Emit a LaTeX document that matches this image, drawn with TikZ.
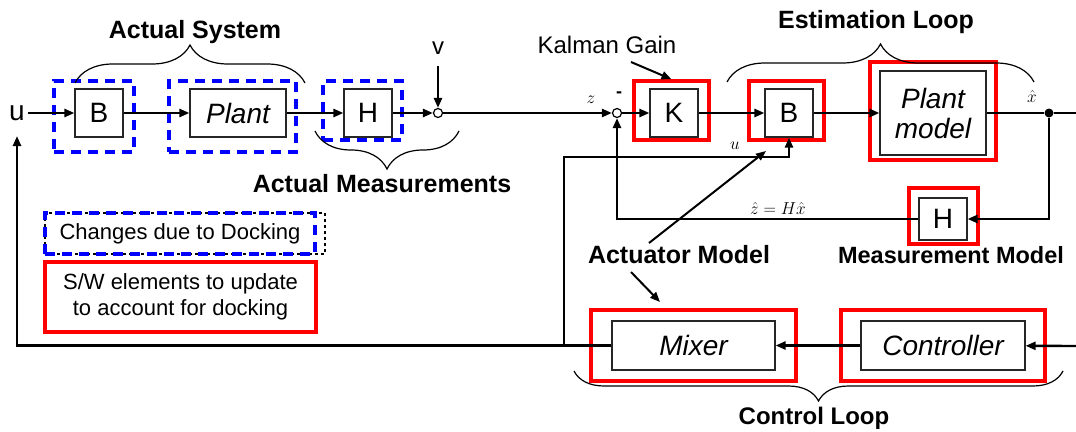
\documentclass[tikz,border=0pt]{standalone}
\usepackage{fontspec}
\setmainfont{Liberation Sans}
\usetikzlibrary{arrows.meta,decorations.pathreplacing}
\definecolor{dockblue}{HTML}{0000FF}
\definecolor{swred}{HTML}{FF0000}
\tikzset{
  blk/.style={draw=black!85, line width=1.2pt, fill=white, minimum width=48pt, minimum height=48pt, inner sep=0pt, font=\fontsize{28}{30}\selectfont},
  itl/.style={font=\itshape\fontsize{28}{30}\selectfont},
  swbox/.style={draw=swred, line width=3.5pt, inner sep=0pt},
  dockbox/.style={draw=dockblue, line width=3.5pt, dash pattern=on 10pt off 7pt, inner sep=0pt},
  arr/.style={-{Triangle[length=10pt,width=8pt]}, line width=2.4pt},
  ln/.style={line width=2.4pt},
  brc/.style={decorate, decoration={brace, amplitude=38pt}, line width=1.2pt},
  lbl/.style={font=\bfseries\fontsize{25}{28}\selectfont},
  txt/.style={font=\fontsize{24}{26}\selectfont},
  mth/.style={font=\fontsize{17}{17}\selectfont, inner sep=1pt},
}
\begin{document}
\begin{tikzpicture}[x=1pt, y=-1pt]
\useasboundingbox (0,0) rectangle (1076,431);
% actual system
\node[dockbox, minimum width=80pt, minimum height=71pt] (dB) at (94,116.5) {};
\node[dockbox, minimum width=127pt, minimum height=71pt] (dP) at (232.5,116.5) {};
\node[dockbox, minimum width=79pt, minimum height=59pt] (dH) at (362.5,110.5) {};
\node[blk] (B) at (99,113) {B};
\node[blk, itl, minimum width=96pt] (P) at (238,113) {Plant};
\node[blk] (H) at (368,113) {H};
\node[draw, circle, line width=1.2pt, fill=white, inner sep=0pt, minimum size=9pt] (s1) at (438,113) {};
\node[font=\fontsize{28}{30}\selectfont] (u) at (17,113) {u};
\node[txt] (v) at (438,48) {v};
% estimator and controller
\node[swbox, minimum width=75pt, minimum height=59pt] (rK) at (671.5,110.5) {};
\node[swbox, minimum width=75pt, minimum height=59pt] (rB) at (786.5,110.5) {};
\node[swbox, minimum width=126pt, minimum height=98pt] (rP) at (933,111) {};
\node[swbox, minimum width=69pt, minimum height=56pt] (rH) at (943.5,216) {};
\node[swbox, minimum width=205pt, minimum height=71pt] (rM) at (693.5,345.5) {};
\node[swbox, minimum width=204pt, minimum height=71pt] (rC) at (943,345.5) {};
\node[blk] (K) at (674,113) {K};
\node[blk] (Bm) at (789,113) {B};
\node[blk, itl, minimum width=106pt, minimum height=84pt, align=center] (Pm) at (933,113) {Plant\\model};
\node[blk, minimum height=42pt] (Hm) at (943,219) {H};
\node[blk, itl, minimum width=163pt, minimum height=49pt] (Mx) at (693.5,345.5) {Mixer};
\node[blk, itl, minimum width=164pt, minimum height=49pt] (Ct) at (943,345.5) {Controller};
\node[draw, circle, line width=1.2pt, fill=white, inner sep=0pt, minimum size=9pt] (s2) at (617,113) {};
\node[circle, fill, inner sep=0pt, minimum size=9pt] (dot) at (1049,113) {};
\coordinate (xr) at (1076,113);
\coordinate (cr) at (1076,346);
\coordinate (ub) at (564,346);
\coordinate (uB) at (789,157);
% signal paths
\draw[arr] (u) -- (B);
\draw[arr] (B) -- (P);
\draw[arr] (P) -- (H);
\draw[arr] (H) -- (s1);
\draw[arr, shorten <=8pt] (v) -- (s1);
\draw[arr] (s1) -- (s2);
\draw[arr] (s2) -- (K);
\draw[arr] (K) -- (Bm);
\draw[arr] (Bm) -- (Pm);
\draw[line width=1.2pt] (Pm) -- (dot);
\draw[ln] (dot) -- (xr);
\draw[arr] (dot) |- (Hm);
\draw[arr] (Hm) -| (s2);
\draw[arr] (cr) -- (Ct);
\draw[arr] (Ct) -- (Mx);
\draw[arr, shorten >=12pt] (Mx) -| (u);
\draw[arr] (ub) |- (uB) -- (Bm);
% signal labels
\node[mth] (zl) at (591,100) {$z$};
\node[font=\bfseries\fontsize{18}{18}\selectfont] (mn) at (619,95) {-};
\node[mth] (xl) at (1032,96) {$\hat{x}$};
\node[mth] (ul) at (735,146) {$u$};
\node[mth] (zh) at (778,208) {$\hat{z} = H\hat{x}$};
% braces and titles
\draw[brc] (75,83) -- (305,83);
\draw[brc] (459,131) -- (315,131);
\draw[brc] (727,82) -- (1034,82);
\draw[brc, decoration={amplitude=30pt}] (1063,371) -- (574,371);
\node[lbl] (as) at (195,32) {Actual System};
\node[lbl] (ams) at (382,184) {Actual Measurements};
\node[lbl] (el) at (876,22) {Estimation Loop};
\node[lbl, font=\bfseries\fontsize{24}{28}\selectfont] (cl) at (814,418) {Control Loop};
\node[lbl, font=\bfseries\fontsize{23.5}{28}\selectfont] (mm) at (951,255) {Measurement Model};
\node[lbl] (am) at (679,255) {Actuator Model};
\node[txt] (kg) at (607,45) {Kalman Gain};
\coordinate (kgt) at (631,62);
\coordinate (am1) at (649,243);
\coordinate (am2) at (631,272);
\coordinate (ua) at (766,151);
\coordinate (mxa) at (660,302);
\draw[arr, line width=2pt] (kgt) -- (rK.north);
\draw[arr, line width=2pt] (am1) -- (ua);
\draw[arr, line width=2pt] (am2) -- (mxa);
% legend
\node[draw, dashed, line width=1.2pt, minimum width=280pt, minimum height=41pt] (lgk) at (185,233.5) {};
\node[dockbox, minimum width=270pt, minimum height=41pt, font=\fontsize{22}{24}\selectfont] (lg1) at (180,233.5) {Changes due to Docking};
\node[swbox, minimum width=271pt, minimum height=70pt, align=center, font=\fontsize{22}{26}\selectfont] (lg2) at (180.5,297) {S/W elements to update\\to account for docking};
\end{tikzpicture}
\end{document}
